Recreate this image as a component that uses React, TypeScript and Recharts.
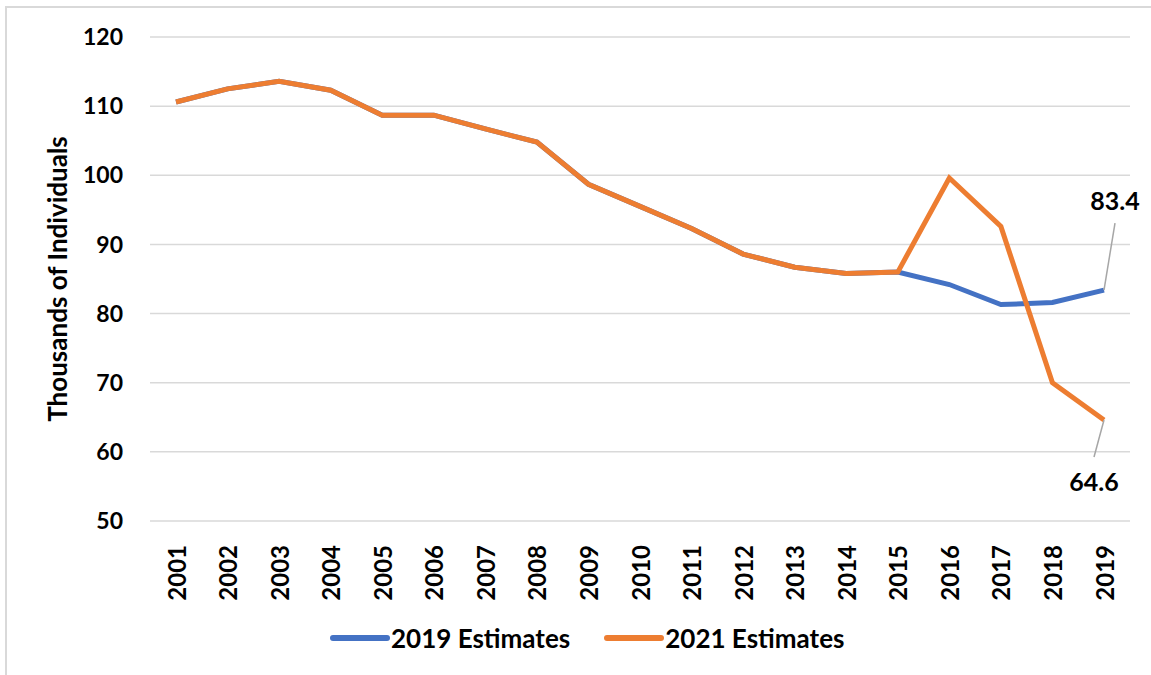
import React from 'react';
import { LineChart, Line, XAxis, YAxis, CartesianGrid, Legend } from 'recharts';

// Annual counts, thousands of individuals
const years = ['2001', '2002', '2003', '2004', '2005', '2006', '2007', '2008', '2009', '2010', '2011', '2012', '2013', '2014', '2015', '2016', '2017', '2018', '2019'];
const estimates2019 = [110.6, 112.5, 113.6, 112.3, 108.7, 108.7, 106.7, 104.8, 98.7, 95.5, 92.3, 88.6, 86.7, 85.8, 86.0, 84.2, 81.3, 81.6, 83.4];
const estimates2021 = [110.6, 112.5, 113.6, 112.3, 108.7, 108.7, 106.7, 104.8, 98.7, 95.5, 92.3, 88.6, 86.7, 85.8, 86.0, 99.6, 92.6, 70.0, 64.6];
const yTicks = [50, 60, 70, 80, 90, 100, 110, 120];

const seriesNames = ['2019 Estimates', '2021 Estimates'];
const colors = ['#4472C4', '#ED7D31'];

const data = years.map((year, i) => ({
  year,
  e2019: estimates2019[i],
  e2021: estimates2021[i],
}));

const FONT = 'Lato, "Open Sans", sans-serif';
const lastIndex = years.length - 1;

const XTick = (props: any) => {
  const { x, y, payload } = props;
  const ty = y + 16;
  return (
    <text
      x={x}
      y={ty}
      transform={`rotate(-90, ${x}, ${ty})`}
      textAnchor="end"
      dominantBaseline="central"
      fontFamily={FONT}
      fontWeight={700}
      fontSize={24}
      fill="#000"
    >
      {payload.value}
    </text>
  );
};

// Callout for the final point: value text offset from the point with a thin leader line
const makeEndLabel = (dx: number, dy: number, lineDx: number, lineDy: number) => (props: any) => {
  const { x, y, value, index } = props;
  if (index !== lastIndex) return null;
  return (
    <g>
      <line x1={x} y1={y} x2={x + lineDx} y2={y + lineDy} stroke="#a6a6a6" strokeWidth={1.5} />
      <text
        x={x + dx}
        y={y + dy}
        textAnchor="middle"
        dominantBaseline="central"
        fontFamily={FONT}
        fontWeight={700}
        fontSize={25}
        fill="#000"
      >
        {Number(value).toFixed(1)}
      </text>
    </g>
  );
};

const LegendContent = () => (
  <div
    style={{
      height: 74,
      display: 'flex',
      alignItems: 'center',
      paddingLeft: 330,
      fontFamily: FONT,
      fontWeight: 700,
      fontSize: 26,
      color: '#000',
    }}
  >
    {seriesNames.map((name, i) => (
      <div key={name} style={{ display: 'flex', alignItems: 'center', marginRight: i === 0 ? 34 : 0 }}>
        <svg width={60} height={10} style={{ marginRight: 1 }}>
          <line x1={3} y1={5} x2={57} y2={5} stroke={colors[i]} strokeWidth={6} strokeLinecap="round" />
        </svg>
        <span>{name}</span>
      </div>
    ))}
  </div>
);

export default function App() {
  return (
    <div style={{ position: 'absolute', left: 0, top: 0, width: 1151, height: 675, overflow: 'hidden', background: '#fff' }}>
      <div
        style={{
          position: 'absolute',
          left: 5,
          top: 6,
          width: 1200,
          height: 720,
          border: '2px solid #d9d9d9',
          boxSizing: 'border-box',
        }}
      />
      <LineChart
        width={1151}
        height={675}
        data={data}
        margin={{ top: 37, right: 21, left: 0, bottom: 0 }}
        style={{ position: 'absolute', left: 0, top: 0 }}
      >
        <CartesianGrid vertical={false} stroke="#d9d9d9" strokeWidth={1.5} />
        <XAxis
          dataKey="year"
          height={80}
          axisLine={false}
          tickLine={false}
          interval={0}
          padding={{ left: 26, right: 26 }}
          tick={<XTick />}
        />
        <YAxis
          width={150}
          domain={[50, 120]}
          ticks={yTicks}
          interval={0}
          axisLine={false}
          tickLine={false}
          tickSize={0}
          tickMargin={27}
          tick={{ fontFamily: FONT, fontWeight: 700, fontSize: 23, fill: '#000' }}
          label={{
            content: (p: any) => {
              const vb = p.viewBox;
              const cx = vb.x + 57;
              const cy = vb.y + vb.height / 2;
              return (
                <text
                  x={cx}
                  y={cy}
                  transform={`rotate(-90, ${cx}, ${cy})`}
                  textAnchor="middle"
                  dominantBaseline="central"
                  fontFamily={FONT}
                  fontWeight={700}
                  fontSize={26}
                  fill="#000"
                >
                  Thousands of Individuals
                </text>
              );
            },
          }}
        />
        <Legend
          verticalAlign="bottom"
          height={74}
          wrapperStyle={{ left: 0, width: 1151 }}
          content={<LegendContent />}
        />
        <Line
          type="linear"
          dataKey="e2019"
          name={seriesNames[0]}
          stroke={colors[0]}
          strokeWidth={5}
          dot={false}
          activeDot={false}
          isAnimationActive={false}
          label={makeEndLabel(11, -90, 11, -67)}
        />
        <Line
          type="linear"
          dataKey="e2021"
          name={seriesNames[1]}
          stroke={colors[1]}
          strokeWidth={5}
          dot={false}
          activeDot={false}
          isAnimationActive={false}
          label={makeEndLabel(-10, 61, -10, 37)}
        />
      </LineChart>
    </div>
  );
}
